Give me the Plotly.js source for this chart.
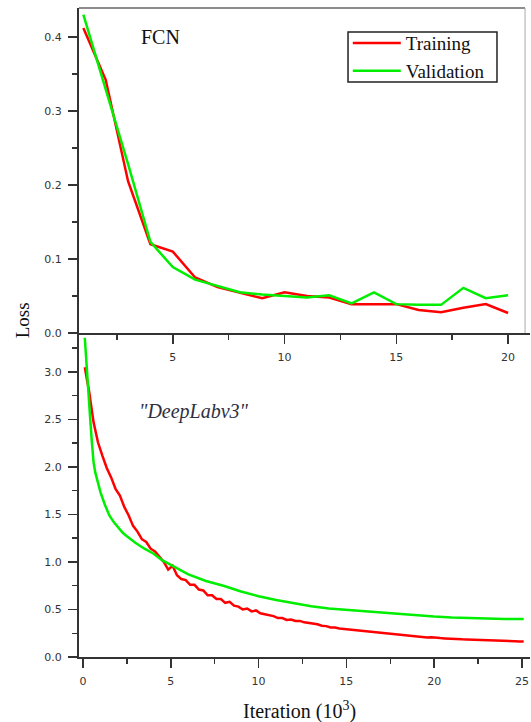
<!DOCTYPE html>
<html>
<head>
<meta charset="utf-8">
<script src="https://cdn.plot.ly/plotly-3.0.1.min.js"></script>
<style>html,body{margin:0;padding:0;background:#fff;}#chart{width:531px;height:722px;}</style>
</head>
<body>
<div id="chart"></div>
<script>
// ---- FCN panel (iterations in 10^3) ----
const fcnIter = [1,2,3,4,5,6,7,8,9,10,11,12,13,14,15,16,17,18,19,20];
const fcnTrain = [0.412,0.342,0.205,0.120,0.110,0.075,0.062,0.054,0.047,0.055,0.050,0.048,0.039,0.039,0.039,0.031,0.028,0.034,0.039,0.027];
const fcnVal   = [0.430,0.330,0.228,0.123,0.089,0.072,0.063,0.055,0.052,0.050,0.048,0.051,0.040,0.055,0.039,0.038,0.038,0.061,0.047,0.051];

// ---- DeepLabv3 panel ----
const dlTrainIter = [0.10,0.35,0.60,0.85,1.10,1.35,1.60,1.85,2.10,2.35,2.60,2.85,3.10,3.35,3.60,3.85,4.10,4.35,4.60,4.85,
  5.10,5.35,5.60,5.85,6.10,6.35,6.60,6.85,7.10,7.35,7.60,7.85,8.10,8.35,8.60,8.85,9.10,9.35,9.60,9.85,
  10.10,10.35,10.60,10.85,11.10,11.35,11.60,11.85,12.10,12.35,12.60,12.85,13.10,13.35,13.60,13.85,14.10,14.35,14.60,14.85,
  15.10,15.35,15.60,15.85,16.10,16.35,16.60,16.85,17.10,17.35,17.60,17.85,18.10,18.35,18.60,18.85,19.10,19.35,19.60,19.85,
  20.10,20.35,20.60,20.85,21.10,21.35,21.60,21.85,22.10,22.35,22.60,22.85,23.10,23.35,23.60,23.85,24.10,24.35,24.60,24.85,25.10];
const dlTrain = [3.05,2.79,2.47,2.26,2.12,1.99,1.89,1.77,1.70,1.58,1.49,1.38,1.32,1.24,1.21,1.14,1.11,1.05,1.00,0.92,
  0.96,0.86,0.82,0.81,0.76,0.76,0.71,0.70,0.65,0.65,0.61,0.61,0.57,0.58,0.54,0.53,0.50,0.51,0.48,0.49,
  0.46,0.45,0.44,0.43,0.41,0.41,0.39,0.395,0.38,0.38,0.365,0.36,0.35,0.345,0.33,0.325,0.31,0.31,0.30,0.295,
  0.29,0.29,0.28,0.278,0.27,0.268,0.26,0.258,0.25,0.248,0.24,0.238,0.23,0.228,0.222,0.22,0.214,0.212,0.206,0.208,
  0.200,0.199,0.196,0.192,0.190,0.189,0.186,0.185,0.184,0.181,0.180,0.179,0.178,0.175,0.174,0.171,0.170,0.167,0.166,0.163,0.162];
const dlValIter = [0.1,0.2,0.3,0.4,0.5,0.6,0.7,0.8,0.9,1.0,1.25,1.5,1.75,2.0,2.25,2.5,3.0,3.5,4.0,4.5,5.0,5.5,6.0,7.0,8.0,9.0,10.0,11.0,12.0,13.0,14.0,15.0,16.0,17.0,18.0,19.0,20.0,21.0,22.0,23.0,24.0,25.1];
const dlVal = [3.36,3.04,2.76,2.53,2.27,2.05,1.94,1.86,1.79,1.73,1.60,1.49,1.42,1.36,1.31,1.27,1.20,1.14,1.09,1.02,0.97,0.92,0.87,0.80,0.75,0.69,0.64,0.60,0.565,0.535,0.51,0.495,0.485,0.47,0.455,0.44,0.425,0.415,0.41,0.40,0.40,0.40];

const RED = '#ff0000', GREEN = '#00ee00';
const axisColor = '#333333';
const tickFont = {family: 'DejaVu Sans', size: 11, color: '#333333'};

const traces = [
  {x: fcnIter, y: fcnTrain, xaxis: 'x', yaxis: 'y', mode: 'lines', name: 'Training', line: {color: RED, width: 2.5}},
  {x: fcnIter, y: fcnVal, xaxis: 'x', yaxis: 'y', mode: 'lines', name: 'Validation', line: {color: GREEN, width: 2.5}},
  {x: dlTrainIter, y: dlTrain, xaxis: 'x2', yaxis: 'y2', mode: 'lines', name: 'Training', showlegend: false, line: {color: RED, width: 2.5}},
  {x: dlValIter, y: dlVal, xaxis: 'x2', yaxis: 'y2', mode: 'lines', name: 'Validation', showlegend: false, line: {color: GREEN, width: 2.5}}
];

const commonAxis = {
  showgrid: false, zeroline: false, showline: true, linecolor: axisColor, linewidth: 2,
  ticks: 'outside', ticklen: 9, tickwidth: 1.5, tickcolor: axisColor, tickfont: tickFont,
  ticklabelstandoff: 4
};

const split = 324/649;

const layout = {
  width: 531, height: 722,
  margin: {l: 79, r: 1, t: 8, b: 65},
  paper_bgcolor: '#ffffff', plot_bgcolor: 'rgba(0,0,0,0)',
  showlegend: true,
  legend: {
    x: 0.596, y: 0.975, xanchor: 'left', yanchor: 'top',
    bgcolor: 'rgba(0,0,0,0)', borderwidth: 0,
    font: {family: 'Liberation Serif', size: 19, color: '#111111'},
    tracegroupgap: 0, itemwidth: 48
  },
  xaxis: Object.assign({}, commonAxis, {
    domain: [0, 1], anchor: 'y', range: [0.805, 20.98], tick0: 0, dtick: 5,
    minor: {dtick: 2.5, ticklen: 5, tickwidth: 1.5, tickcolor: axisColor, ticks: 'outside'}
  }),
  yaxis: Object.assign({}, commonAxis, {
    domain: [split, 1], anchor: 'x', range: [0, 0.439], tick0: 0, dtick: 0.1, tickformat: '.1f',
    minor: {dtick: 0.05, ticklen: 5, tickwidth: 1.5, tickcolor: axisColor, ticks: 'outside'}
  }),
  xaxis2: Object.assign({}, commonAxis, {
    domain: [0, 1], anchor: 'y2', range: [-0.23, 25.46], tick0: 0, dtick: 5,
    minor: {dtick: 2.5, ticklen: 5, tickwidth: 1.5, tickcolor: axisColor, ticks: 'outside'}
  }),
  yaxis2: Object.assign({}, commonAxis, {
    domain: [0, split], anchor: 'x2', range: [0, 3.41], tick0: 0, dtick: 0.5, tickformat: '.1f',
    minor: {dtick: 0.25, ticklen: 5, tickwidth: 1.5, tickcolor: axisColor, ticks: 'outside'}
  }),
  shapes: [
    {type: 'line', xref: 'paper', yref: 'paper', x0: 0, x1: 0.989, y0: 1, y1: 1, line: {color: '#666666', width: 1.5}},
    {type: 'line', xref: 'paper', yref: 'paper', x0: 0.989, x1: 0.989, y0: 1, y1: split, line: {color: '#aaaaaa', width: 1}},
    {type: 'rect', xref: 'paper', yref: 'paper', x0: 0.5965, x1: 0.9268, y0: 0.886, y1: 0.963, line: {color: '#222222', width: 1.5}, fillcolor: 'rgba(0,0,0,0)'}
  ],
  annotations: [
    {text: 'FCN', xref: 'paper', yref: 'paper', x: 0.18, y: 0.955, xanchor: 'center', yanchor: 'middle', showarrow: false,
     font: {family: 'Liberation Serif', size: 20, color: '#111111'}},
    {text: '"DeepLabv3"', xref: 'paper', yref: 'paper', x: 0.255, y: 0.379, xanchor: 'center', yanchor: 'middle', showarrow: false,
     font: {family: 'Liberation Serif', size: 20, color: '#2e3040', style: 'italic'}},
    {text: 'Loss', xref: 'paper', yref: 'paper', x: -0.126, y: 0.519, xanchor: 'center', yanchor: 'middle', showarrow: false, textangle: -90,
     font: {family: 'Liberation Serif', size: 19, color: '#111111'}},
    {text: 'Iteration (10<sup>3</sup>)', xref: 'paper', yref: 'paper', x: 0.49, y: -0.0817, xanchor: 'center', yanchor: 'middle', showarrow: false,
     font: {family: 'Liberation Serif', size: 20, color: '#111111'}}
  ]
};

Plotly.newPlot('chart', traces, layout, {displayModeBar: false, staticPlot: true});
</script>
</body>
</html>
